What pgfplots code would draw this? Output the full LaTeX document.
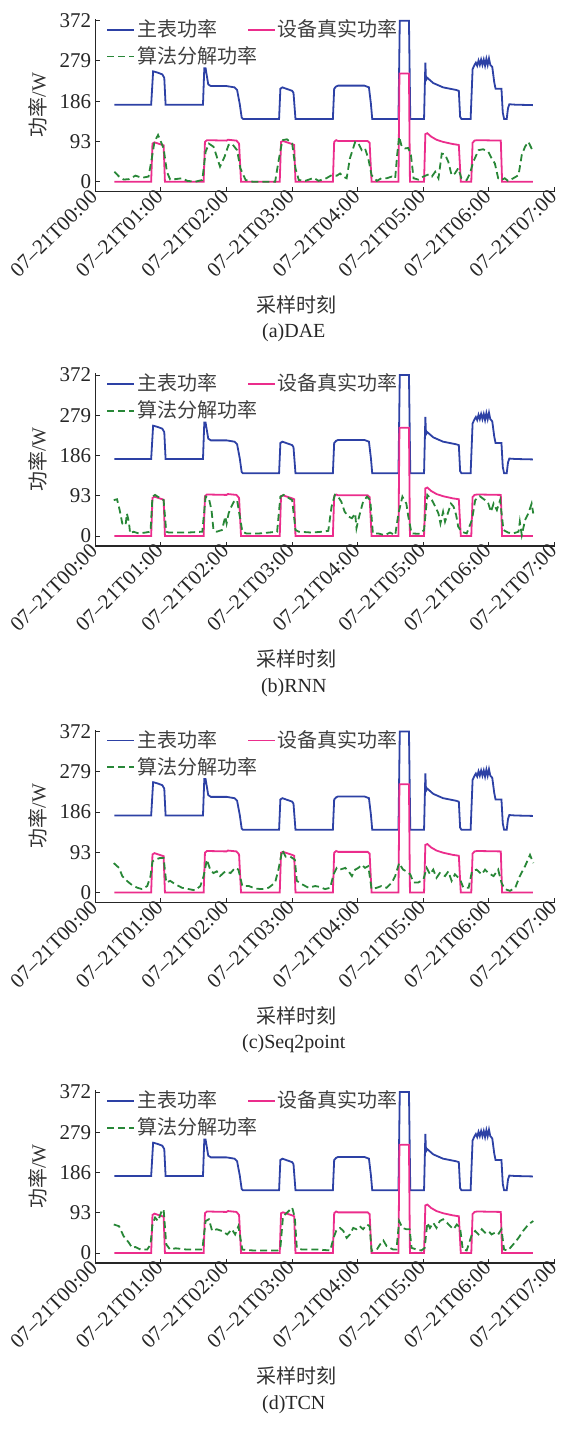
\documentclass[border=0pt]{standalone}
\usepackage{fontspec}
\setmainfont{Liberation Serif}
\newfontfamily\cjk{Noto Sans CJK SC}
\usepackage{pgfplots}
\pgfplotsset{compat=1.18}
\usepackage{pgfplotstable}
\definecolor{mblue}{RGB}{45,65,165}
\definecolor{mpink}{RGB}{235,45,140}
\definecolor{mgreen}{RGB}{40,135,55}

% main meter power
\pgfplotstableread{
x y
0.29 178
0.85 178
0.88 255
0.95 252
1.02 248
1.05 240
1.07 178
1.64 178
1.66 262
1.68 262
1.72 225
1.76 221
2.00 221
2.12 218
2.16 212
2.20 180
2.23 148
2.25 145
2.80 145
2.82 215
2.85 218
3.00 210
3.02 205
3.05 145
3.62 145
3.64 215
3.67 220
3.70 222
4.10 222
4.17 218
4.20 180
4.22 145
4.62 145
4.64 372
4.78 372
4.80 145
5.01 145
5.03 275
5.04 235
5.06 240
5.15 228
5.30 218
5.50 212
5.54 210
5.56 150
5.58 145
5.72 145
5.75 260
5.78 270
5.80 275
5.82 268
5.84 280
5.86 270
5.88 282
5.90 270
5.92 282
5.94 268
5.96 284
5.98 270
6.00 285
6.02 270
6.05 265
6.08 230
6.10 215
6.19 215
6.21 160
6.23 145
6.27 145
6.29 170
6.31 179
6.40 178
6.67 177
}\tblue

% true appliance power
\pgfplotstableread{
x y
0.29 0
0.85 0
0.87 88
0.90 91
1.00 86
1.04 84
1.06 0
1.65 0
1.67 92
1.70 96
2.00 95
2.02 97
2.15 95
2.19 88
2.22 0
2.81 0
2.83 92
2.86 94
3.00 87
3.03 85
3.05 0
3.62 0
3.64 92
3.67 96
3.70 94
4.15 94
4.18 90
4.21 0
4.62 0
4.635 250
4.78 250
4.795 0
5.01 0
5.03 110
5.06 112
5.12 104
5.20 97
5.30 92
5.45 87
5.54 85
5.57 0
5.73 0
5.75 90
5.78 95
5.82 96
6.18 95
6.20 0
6.67 0
}\tpink

\pgfplotstableread{
x y
0.29 23
0.36 12
0.43 5
0.51 6
0.61 14
0.71 9
0.81 12
0.86 54
0.90 92
0.955 108
1.00 92
1.04 77
1.09 23
1.14 5
1.22 6
1.32 8
1.40 2
1.52 0
1.63 4
1.68 69
1.73 88
1.80 81
1.85 58
1.90 35
1.97 58
2.03 85
2.08 88
2.16 73
2.21 31
2.29 4
2.40 0
2.60 0
2.74 0
2.79 46
2.85 96
2.92 98
3.00 88
3.05 31
3.10 4
3.20 2
3.33 9
3.40 2
3.52 8
3.60 15
3.68 14
3.73 19
3.78 12
3.83 8
3.88 54
3.96 92
4.01 88
4.06 73
4.11 77
4.16 54
4.21 15
4.29 2
4.36 8
4.44 8
4.52 12
4.57 8
4.60 62
4.63 104
4.67 81
4.72 77
4.77 78
4.81 62
4.85 8
4.92 5
5.00 12
5.08 17
5.13 12
5.18 23
5.23 8
5.28 65
5.33 63
5.38 46
5.43 15
5.48 19
5.53 31
5.58 8
5.66 4
5.71 19
5.76 46
5.84 73
5.91 75
5.99 69
6.04 54
6.09 42
6.14 8
6.19 4
6.24 8
6.29 2
6.37 8
6.45 15
6.50 62
6.55 81
6.60 92
6.675 69
}\tgA

\pgfplotstableread{
x y
0.28 83
0.33 85
0.37 60
0.41 29
0.46 25
0.48 52
0.51 33
0.53 6
0.58 10
0.66 6
0.76 8
0.84 10
0.87 91
0.91 95
0.99 87
1.04 83
1.08 10
1.12 8
1.40 8
1.63 10
1.68 91
1.73 87
1.77 60
1.80 14
1.85 10
1.93 14
1.98 45
2.00 29
2.03 52
2.06 64
2.11 79
2.16 83
2.24 10
2.30 6
2.50 6
2.64 8
2.77 10
2.82 91
2.87 95
3.00 83
3.05 14
3.10 10
3.30 8
3.46 10
3.55 12
3.60 68
3.65 95
3.70 91
3.75 79
3.80 56
3.86 45
3.91 41
3.96 52
3.98 18
4.02 45
4.08 79
4.14 91
4.19 83
4.23 6
4.31 6
4.41 2
4.49 8
4.57 2
4.62 52
4.68 91
4.74 75
4.77 45
4.82 6
4.95 5
5.01 14
5.06 95
5.13 83
5.18 68
5.23 52
5.26 29
5.30 56
5.33 33
5.38 56
5.42 75
5.46 68
5.50 48
5.53 22
5.58 10
5.66 6
5.74 37
5.79 83
5.86 92
5.94 83
5.99 75
6.03 56
6.07 75
6.12 60
6.17 83
6.22 14
6.29 8
6.37 6
6.45 10
6.47 33
6.50 2
6.55 37
6.60 52
6.65 75
6.675 52
}\tgB

\pgfplotstableread{
x y
0.28 68
0.36 57
0.41 38
0.48 27
0.56 17
0.64 11
0.71 8
0.79 15
0.84 38
0.87 72
0.91 76
0.99 80
1.04 80
1.08 23
1.14 27
1.22 19
1.32 11
1.42 8
1.52 5
1.60 15
1.65 38
1.70 76
1.75 53
1.80 45
1.85 49
1.90 38
1.98 49
2.06 45
2.13 57
2.18 53
2.24 15
2.34 15
2.44 9
2.54 8
2.64 11
2.74 23
2.79 53
2.85 98
2.90 83
2.97 83
3.04 76
3.07 27
3.15 19
3.25 11
3.35 15
3.42 13
3.50 8
3.58 11
3.63 42
3.68 57
3.73 53
3.81 57
3.86 49
3.91 38
3.96 53
4.01 57
4.06 64
4.11 57
4.16 61
4.21 8
4.29 11
4.36 15
4.44 11
4.52 23
4.57 38
4.63 68
4.69 53
4.74 49
4.80 42
4.85 23
4.92 23
5.00 30
5.05 57
5.10 42
5.15 53
5.20 34
5.25 45
5.33 38
5.38 49
5.43 27
5.48 42
5.56 30
5.61 11
5.69 11
5.74 49
5.81 53
5.89 42
5.94 53
5.99 45
6.07 38
6.14 53
6.19 23
6.24 8
6.32 4
6.40 11
6.47 38
6.55 61
6.625 87
6.675 68
}\tgC

\pgfplotstableread{
x y
0.28 66
0.36 62
0.43 39
0.51 24
0.56 12
0.61 14
0.69 8
0.79 8
0.84 20
0.87 66
0.91 82
0.955 74
1.01 97
1.04 101
1.08 20
1.14 8
1.22 11
1.40 8
1.63 8
1.68 74
1.73 78
1.78 51
1.85 55
1.93 51
2.01 43
2.08 55
2.13 43
2.18 62
2.24 8
2.40 6
2.60 6
2.78 6
2.82 12
2.86 85
2.92 93
3.00 105
3.04 82
3.07 12
3.15 8
3.40 8
3.58 6
3.63 35
3.68 55
3.73 58
3.78 51
3.83 35
3.88 43
3.93 58
3.98 55
4.03 62
4.08 55
4.14 66
4.18 62
4.21 5
4.29 8
4.34 20
4.39 29
4.44 16
4.49 12
4.54 8
4.59 8
4.63 74
4.68 58
4.74 55
4.79 55
4.82 12
4.90 8
4.97 6
5.02 12
5.06 70
5.10 58
5.15 70
5.20 58
5.25 74
5.30 78
5.36 70
5.41 62
5.46 55
5.51 66
5.56 58
5.60 8
5.66 6
5.74 43
5.79 51
5.84 43
5.89 55
5.94 47
5.99 51
6.04 43
6.09 47
6.14 43
6.19 55
6.23 8
6.29 6
6.37 20
6.45 35
6.52 51
6.60 66
6.675 74
}\tgD

\pgfplotsset{
  panel/.style={
    scale only axis, width=229.6pt, height=86.35pt,
    anchor=south west,
    clip mode=individual,
    xmin=0, xmax=7, ymin=-23, ymax=376,
    axis lines*=left,
    axis line style={line width=0.6pt, black!85},
    xtick={0,1,2,3,4,5,6,7},
    xticklabels={07–21T00:00,07–21T01:00,07–21T02:00,07–21T03:00,07–21T04:00,07–21T05:00,07–21T06:00,07–21T07:00},
    ytick={0,93,186,279,372},
    tick style={black!85, line width=0.5pt},
    major tick length=2.2pt,
    tick align=inside,
    /pgf/number format/assume math mode=true,
    ticklabel style={font=\fontsize{10.5}{12}\selectfont, text=black!85},
    xticklabel style={rotate=45, anchor=east, inner sep=1pt},
    yticklabel style={inner sep=2pt},
    ylabel={{\cjk 功率}/W},
    ylabel style={at={(axis description cs:-0.125,0.5)}, anchor=center, font=\fontsize{10}{12}\selectfont, text=black!80},
    legend columns=2,
    legend cell align=left,
    legend style={at={(axis description cs:0.023,1.01)}, anchor=north west, draw=none, fill=none, inner sep=0pt,
      font=\cjk\fontsize{10}{12}\selectfont, text=black!75, row sep=1.5pt, nodes={inner sep=1pt},
      /tikz/every even column/.append style={column sep=14pt}},
    legend image code/.code={\draw[##1] (0pt,0pt) -- (13.5pt,0pt);},
    legend entries={主表功率,设备真实功率,\makebox[40pt][l]{算法分解功率}},
  },
  sblue/.style={color=mblue, line width=0.9pt},
  spink/.style={color=mpink, line width=0.9pt},
  sgreen/.style={color=mgreen, line width=0.9pt, dash pattern=on 3.5pt off 2pt},
}
\newcommand\paneltexts[1]{%
  \node[anchor=center, font=\cjk\fontsize{10}{12}\selectfont, text=black!80] at (axis description cs:0.439,-0.656) {采样时刻};
  \node[anchor=center, font=\fontsize{10}{12}\selectfont, text=black!85] at (axis description cs:0.432,-0.818) {#1};
}

\begin{document}
\begin{tikzpicture}
\useasboundingbox (0,0) rectangle (281.5pt,721.5pt);
\begin{axis}[panel, at={(47.7pt,625.65pt)}]
\addplot[sblue] table[x=x,y=y] {\tblue};
\addplot[spink] table[x=x,y=y] {\tpink};
\addplot[sgreen] table[x=x,y=y] {\tgA};
\paneltexts{(a)DAE}
\end{axis}
\begin{axis}[panel, at={(47.7pt,448.5pt)}]
\addplot[sblue] table[x=x,y=y] {\tblue};
\addplot[spink] table[x=x,y=y] {\tpink};
\addplot[sgreen] table[x=x,y=y] {\tgB};
\paneltexts{(b)RNN}
\end{axis}
\begin{axis}[panel, at={(47.7pt,270.25pt)}]
\addplot[sblue] table[x=x,y=y] {\tblue};
\addplot[spink] table[x=x,y=y] {\tpink};
\addplot[sgreen] table[x=x,y=y] {\tgC};
\paneltexts{(c)Seq2point}
\end{axis}
\begin{axis}[panel, at={(47.7pt,90pt)}]
\addplot[sblue] table[x=x,y=y] {\tblue};
\addplot[spink] table[x=x,y=y] {\tpink};
\addplot[sgreen] table[x=x,y=y] {\tgD};
\paneltexts{(d)TCN}
\end{axis}
\end{tikzpicture}
\end{document}
